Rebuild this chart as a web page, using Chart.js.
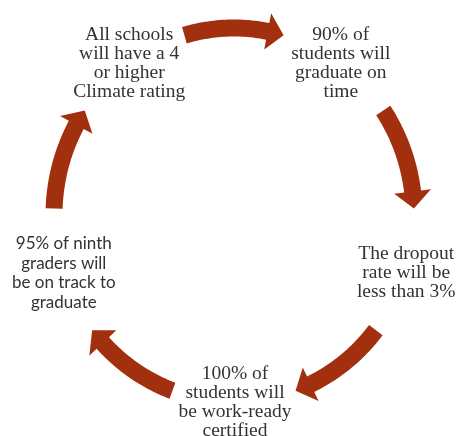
<!DOCTYPE html>
<html>
<head>
<meta charset="utf-8">
<script src="https://cdn.jsdelivr.net/npm/chart.js@4"></script>
<style>
  html, body { margin: 0; padding: 0; background: #fff; }
  #wrap { width: 457px; height: 436px; position: relative; }
</style>
</head>
<body>
<div id="wrap"><canvas id="cycleChart"></canvas></div>
<script>
// cycle steps, clockwise from the upper left
const steps = [
    ['All schools', 'will have a 4', 'or higher', 'Climate rating'],
    ['90% of', 'students will', 'graduate on', 'time'],
    ['The dropout', 'rate will be', 'less than 3%'],
    ['100% of', 'students will', 'be work-ready', 'certified'],
    ['95% of ninth', 'graders will', 'be on track to', 'graduate']
];
// every step sits on the same ring
const ring = [1, 1, 1, 1, 1];

const arrowColor = '#a2300f';
const textColor = '#333333';

// the ring is drawn slightly narrower than it is tall
const squashX = 180 / 187;

const cyclePlugin = {
    id: 'cycle',
    afterDatasetsDraw(chart) {
        const ctx = chart.ctx;
        const scale = chart.scales.r;
        const cx = scale.xCenter, cy = scale.yCenter;
        const R = scale.getDistanceFromCenterForValue(1);
        const n = steps.length;
        const stepAng = Math.PI * 2 / n;
        const gap = 20 * Math.PI / 180;
        const w = 17, hw = 37, hl = 17;
        const pos = (t, off) => [cx + (R * squashX + off) * Math.cos(t), cy + (R + off) * Math.sin(t)];

        ctx.save();
        ctx.fillStyle = arrowColor;
        for (let i = 0; i < n; i++) {
            const a = scale.getIndexAngle(i) - Math.PI / 2;
            const start = a + gap;
            const tip = a + stepAng - gap;
            const neck = tip - hl / R;
            const segs = 30;
            ctx.beginPath();
            for (let k = 0; k <= segs; k++) {
                const p = pos(start + (neck - start) * k / segs, w / 2);
                k === 0 ? ctx.moveTo(p[0], p[1]) : ctx.lineTo(p[0], p[1]);
            }
            let p = pos(neck, hw / 2); ctx.lineTo(p[0], p[1]);
            p = pos(tip, 0); ctx.lineTo(p[0], p[1]);
            p = pos(neck, -hw / 2); ctx.lineTo(p[0], p[1]);
            for (let k = segs; k >= 0; k--) {
                const q = pos(start + (neck - start) * k / segs, -w / 2);
                ctx.lineTo(q[0], q[1]);
            }
            ctx.closePath();
            ctx.fill();
        }

        const meta = chart.getDatasetMeta(0);
        ctx.fillStyle = textColor;
        ctx.textAlign = 'center';
        ctx.textBaseline = 'middle';
        steps.forEach((lines, i) => {
            const pt = meta.data[i];
            const x = cx + (pt.x - cx) * squashX + 1;
            const y = pt.y;
            const sans = i === 4;
            const lh = sans ? 19.5 : 19;
            ctx.font = sans ? '17px Lato' : '19.5px "Liberation Serif"';
            lines.forEach((line, j) => {
                ctx.fillText(line, x, y + (j - (lines.length - 1) / 2) * lh);
            });
        });
        ctx.restore();
    }
};

new Chart(document.getElementById('cycleChart'), {
    type: 'radar',
    data: {
        labels: steps.map(s => s.join(' ')),
        datasets: [{
            data: ring,
            borderWidth: 0,
            pointRadius: 0,
            pointHoverRadius: 0,
            backgroundColor: 'transparent',
            borderColor: 'transparent',
            fill: false
        }]
    },
    options: {
        responsive: true,
        maintainAspectRatio: false,
        animation: false,
        events: [],
        layout: { padding: { top: 28, bottom: 34, left: 47, right: 36 } },
        plugins: {
            legend: { display: false },
            tooltip: { enabled: false }
        },
        scales: {
            r: {
                min: 0,
                max: 1,
                startAngle: -36,
                grid: { display: false },
                angleLines: { display: false },
                ticks: { display: false },
                pointLabels: { display: false }
            }
        }
    },
    plugins: [cyclePlugin]
});
</script>
</body>
</html>
